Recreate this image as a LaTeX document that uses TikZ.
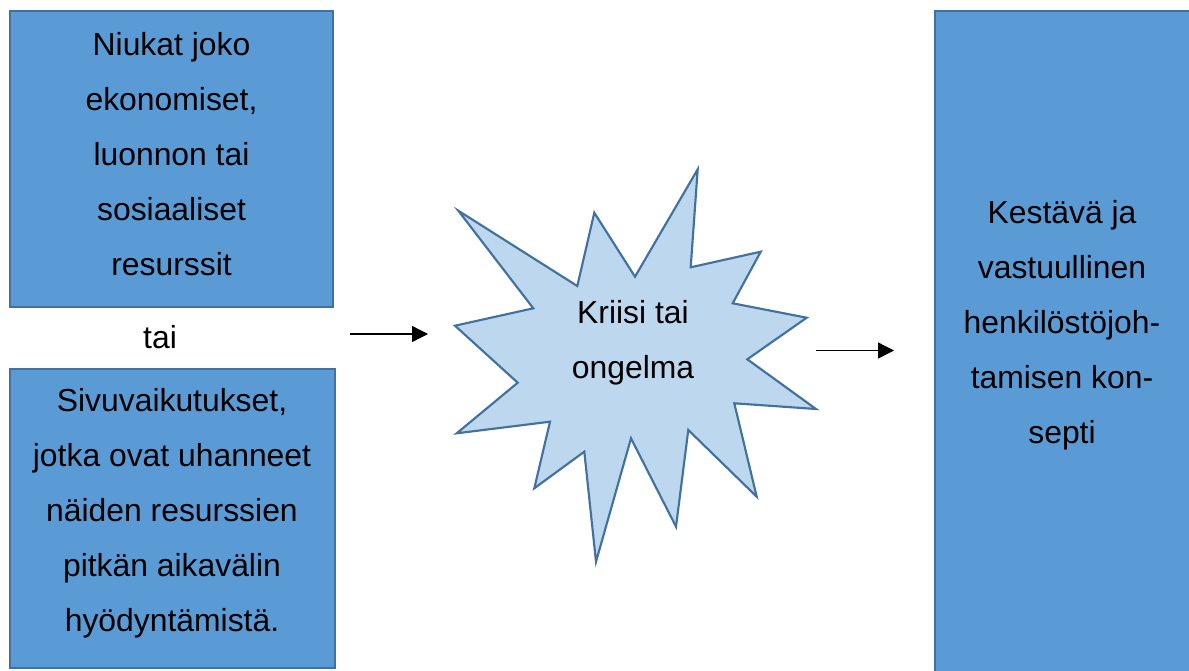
\documentclass[tikz,border=0pt]{standalone}
\usepackage{fontspec}
\setmainfont{Liberation Sans}
\usetikzlibrary{arrows.meta}
\definecolor{boxfill}{HTML}{5B9BD5}
\definecolor{boxline}{HTML}{41719C}
\definecolor{starfill}{HTML}{BDD7EE}
\tikzset{
  blockbox/.style={draw=boxline, fill=boxfill, line width=1.6pt},
  burst/.style={draw=boxline, fill=starfill, line width=1.6pt, line join=miter},
  label/.style={align=center, font=\fontsize{23.9}{41.2}\selectfont, text=black, inner sep=0pt},
  flow/.style={-{Triangle[length=12pt,width=12pt]}, line width=1pt, black}
}
\begin{document}
\begin{tikzpicture}[x=0.75pt, y=-0.75pt]
  \useasboundingbox (0,0) rectangle (1189,671);
  \clip (0,0) rectangle (1189,671);

  % resource boxes on the left
  \draw[blockbox] (10,11) rectangle (333,307);
  \node[label] (scarce) at (171.5,154) {Niukat joko\\ekonomiset,\\luonnon tai\\sosiaaliset\\resurssit};

  \node[label] (or) at (160,337) {tai};

  \draw[blockbox] (10,369) rectangle (335,668);
  \node[label] (effects) at (172,513) {Sivuvaikutukset,\\jotka ovat uhanneet\\näiden resurssien\\pitkän aikavälin\\hyödyntämistä.};

  % crisis star
  \draw[burst] (697.7,169.3) -- (690.7,267.3) -- (760.7,251.7) -- (732.7,303.3)
    -- (806.7,317.7) -- (747.3,359.3) -- (816,409) -- (734.3,403.3)
    -- (756.7,496.7) -- (688.3,430) -- (676,526.7) -- (631,438.3)
    -- (596,561.7) -- (584.3,451.7) -- (534.3,488.3) -- (550,421.7)
    -- (456.7,433.3) -- (517.7,382.7) -- (455,325.7) -- (533.3,308.3)
    -- (458.3,210.7) -- (577.3,286) -- (594.3,212.7) -- (635,276.7) -- cycle;
  \node[label] (crisis) at (633,343) {Kriisi tai\\ongelma};

  % outcome box on the right
  \draw[blockbox] (935,11) rectangle (1200,690);
  \node[label] (concept) at (1062,325) {Kestävä ja\\vastuullinen\\henkilöstöjoh-\\tamisen kon-\\septi};

  % flow arrows
  \coordinate (inS) at (350,334);
  \coordinate (inE) at (428,334);
  \coordinate (outS) at (816,350.5);
  \coordinate (outE) at (894,350.5);
  \draw[flow] (inS) -- (inE);
  \draw[flow] (outS) -- (outE);
\end{tikzpicture}
\end{document}
